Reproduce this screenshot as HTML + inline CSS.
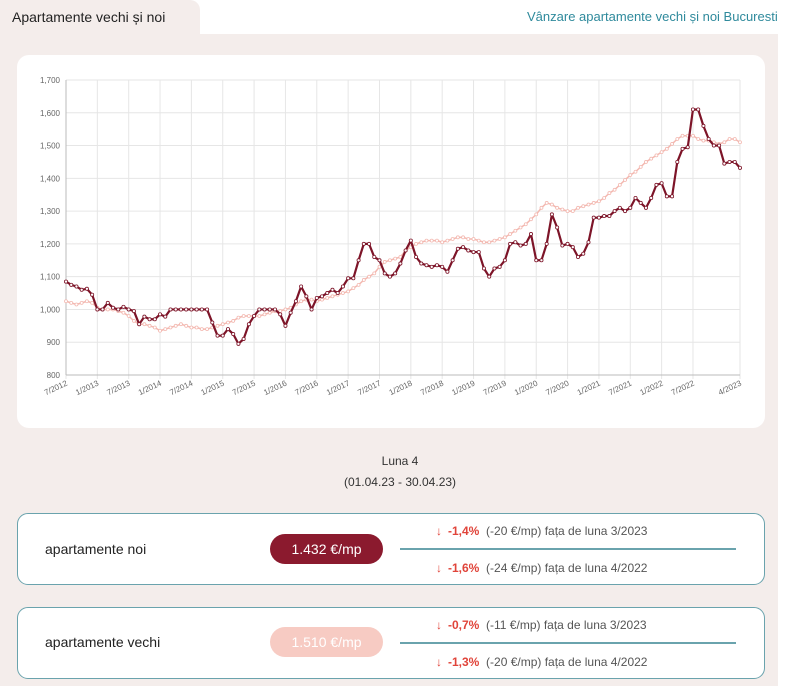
<!DOCTYPE html>
<html><head><meta charset="utf-8"><style>
body{margin:0;width:800px;height:686px;background:#fff;font-family:"Liberation Sans",sans-serif;position:relative;overflow:hidden}
.abs{position:absolute}
.panel{left:0;top:34px;width:778px;height:652px;background:#f4edeb}
.tab{left:0;top:0;width:200px;height:40px;background:#f4edeb;border-radius:0 10px 0 0}
.card{left:17px;width:746px;height:70px;background:#fff;border:1.5px solid #6aa3ad;border-radius:11px}
.lbl{font-size:14px;color:#222}
.pill{width:113px;height:30px;border-radius:15px;color:#fff;font-size:14px;text-align:center;line-height:30px}
.row{font-size:12px;color:#555;white-space:nowrap}
.row b{color:#e0443a;font-weight:bold}
.row i{color:#e0443a;font-style:normal;margin-right:6px}
.sep{height:1.5px;background:#6aa3ad;width:336px}
</style></head><body>
<div class="abs panel"></div>
<div class="abs tab"></div>
<div class="abs" style="left:12px;top:9px;font-size:14px;color:#222">Apartamente vechi și noi</div>
<div class="abs" style="left:527px;top:9px;font-size:13px;color:#2f8a9c">Vânzare apartamente vechi și noi Bucuresti</div>
<div class="abs" style="left:17px;top:55px;width:748px;height:373px;background:#fff;border-radius:12px">
<svg id="chart" width="748" height="373"></svg>
</div>
<div class="abs" style="left:0;width:800px;top:454px;text-align:center;font-size:12px;color:#333">Luna 4</div>
<div class="abs" style="left:0;width:800px;top:475px;text-align:center;font-size:12px;color:#333">(01.04.23 - 30.04.23)</div>

<div class="abs card" style="top:513px"></div>
<div class="abs lbl" style="left:45px;top:541px">apartamente noi</div>
<div class="abs pill" style="left:270px;top:534px;background:#8b1a2e">1.432 €/mp</div>
<div class="abs row" style="left:436px;top:524px"><i>↓</i><b>-1,4%</b>&nbsp; (-20 €/mp) fața de luna 3/2023</div>
<div class="abs sep" style="left:400px;top:548px"></div>
<div class="abs row" style="left:436px;top:561px"><i>↓</i><b>-1,6%</b>&nbsp; (-24 €/mp) fața de luna 4/2022</div>

<div class="abs card" style="top:607px"></div>
<div class="abs lbl" style="left:45px;top:634px">apartamente vechi</div>
<div class="abs pill" style="left:270px;top:627px;background:#f7cbc3">1.510 €/mp</div>
<div class="abs row" style="left:436px;top:618px"><i>↓</i><b>-0,7%</b>&nbsp; (-11 €/mp) fața de luna 3/2023</div>
<div class="abs sep" style="left:400px;top:642px"></div>
<div class="abs row" style="left:436px;top:655px"><i>↓</i><b>-1,3%</b>&nbsp; (-20 €/mp) fața de luna 4/2022</div>

<script>
const xLabels=["7/2012","1/2013","7/2013","1/2014","7/2014","1/2015","7/2015","1/2016","7/2016","1/2017","7/2017","1/2018","7/2018","1/2019","7/2019","1/2020","7/2020","1/2021","7/2021","1/2022","7/2022"];
const yTicks=[800,900,1000,1100,1200,1300,1400,1500,1600,1700];
const seriesNoi=[1085,1075,1070,1060,1063,1045,1000,1000,1020,1005,1000,1008,1000,995,955,978,970,970,985,978,1000,1000,1000,1000,1000,1000,1000,1000,960,920,920,940,925,895,910,955,980,1000,1000,1000,1000,985,950,990,1025,1070,1040,1000,1035,1040,1050,1060,1050,1070,1095,1095,1150,1200,1200,1160,1150,1110,1100,1110,1140,1180,1210,1160,1140,1135,1130,1135,1130,1115,1150,1185,1190,1180,1175,1175,1125,1100,1125,1130,1150,1200,1205,1195,1200,1230,1150,1150,1200,1290,1250,1195,1200,1190,1160,1170,1205,1280,1280,1285,1285,1300,1310,1300,1310,1340,1325,1310,1340,1380,1385,1345,1345,1450,1490,1495,1610,1610,1560,1520,1500,1500,1445,1450,1450,1432];
const seriesVechi=[1025,1020,1015,1020,1025,1020,1005,1000,1000,1000,995,990,980,965,955,955,950,945,935,940,945,950,955,950,945,945,940,940,945,950,955,960,965,975,980,980,980,980,985,990,995,995,1000,1005,1015,1025,1030,1030,1025,1030,1035,1040,1045,1050,1055,1065,1075,1090,1100,1110,1130,1145,1150,1155,1160,1180,1190,1200,1205,1210,1210,1210,1205,1210,1215,1220,1220,1215,1215,1210,1205,1205,1210,1215,1220,1230,1240,1250,1260,1275,1290,1310,1325,1320,1310,1305,1300,1300,1310,1315,1320,1325,1330,1340,1355,1365,1380,1395,1410,1420,1435,1450,1460,1470,1480,1490,1505,1520,1530,1530,1530,1520,1515,1515,1510,1505,1510,1520,1520,1510];
const NS="http://www.w3.org/2000/svg";
const svg=document.getElementById('chart');
const X0=49,X1=723,Y0=320,Y1=25,N=seriesNoi.length;
const xs=i=>X0+(X1-X0)*i/(N-1);
const ys=v=>Y0-(v-800)/900*(Y0-Y1);
function mk(t,a){const e=document.createElementNS(NS,t);for(const k in a)e.setAttribute(k,a[k]);svg.appendChild(e);return e;}
yTicks.forEach(v=>{
 const l=mk('line',{x1:X0,x2:X1,y1:ys(v),y2:ys(v),stroke:'#e6e6e6','stroke-width':1});
 
 
 const t=mk('text',{x:X0-6,y:ys(v)+3,'text-anchor':'end','font-size':8,fill:'#666','font-family':'Liberation Sans'});
 t.textContent=v.toLocaleString('en-US');
 
 
});
const xl=xLabels.concat(["4/2023"]);
xl.forEach((lab,k)=>{
 const i=k<xLabels.length?k*6:N-1;
 const g=mk('line',{x1:xs(i),x2:xs(i),y1:Y1,y2:Y0+4,stroke:'#e6e6e6','stroke-width':1});
 
 
 const t=mk('text',{x:xs(i)+2,y:Y0+10,'text-anchor':'end','font-size':8,fill:'#666','font-family':'Liberation Sans',transform:`rotate(-25 ${xs(i)+2} ${Y0+10})`});
 t.textContent=lab;
 
 
});
const ax=mk('line',{x1:X0,x2:X0,y1:Y1,y2:Y0,stroke:'#bbb'});


const bx=mk('line',{x1:X0,x2:X1,y1:Y0,y2:Y0,stroke:'#bbb'});


function series(arr,col,w,r,name){
 const p=mk('polyline',{points:arr.map((v,i)=>xs(i)+','+ys(v)).join(' '),fill:'none',stroke:col,'stroke-width':w,'stroke-linejoin':'round'});
 
 
 arr.forEach((v,i)=>{
  const c=mk('circle',{cx:xs(i),cy:ys(v),r:r,fill:'#fff',stroke:col,'stroke-width':0.8});
  
  
 });
}
series(seriesVechi,'#f3b8b0',1.5,1.5,'vechi');
series(seriesNoi,'#7d1428',2.2,1.6,'noi');
</script>
</body></html>
